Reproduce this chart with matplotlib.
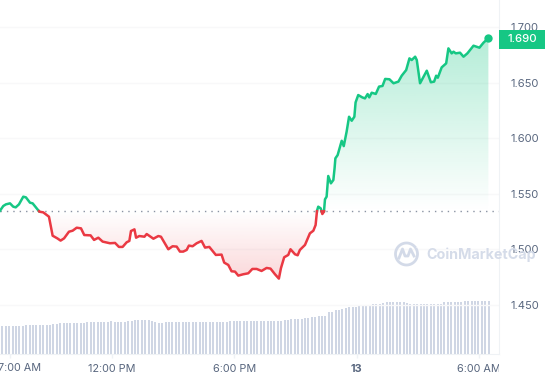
import numpy as np
import matplotlib
matplotlib.use("Agg")
import matplotlib.pyplot as plt
from matplotlib.transforms import Bbox, TransformedBbox

plt.rcParams['font.family'] = ['Inter', 'DejaVu Sans']

# hours since midnight of the 12th
hours = [6.51, 6.67, 6.80, 7.00, 7.16, 7.28, 7.44, 7.65, 7.78, 7.98, 8.11, 8.44, 8.63, 8.91,
         9.09, 9.32, 9.48, 9.65, 9.89, 10.07, 10.27, 10.48, 10.64, 10.95, 11.12, 11.33, 11.54,
         11.90, 12.15, 12.34, 12.52, 12.72, 12.85, 12.93, 13.10, 13.18, 13.34, 13.59, 13.70,
         14.03, 14.27, 14.40, 14.76, 14.97, 15.17, 15.33, 15.49, 15.66, 15.77, 15.95, 16.15,
         16.39, 16.56, 16.77, 17.09, 17.37, 17.50, 17.70, 17.86, 18.03, 18.19, 18.43, 18.68,
         18.88, 19.09, 19.33, 19.58, 19.77, 19.99, 20.18, 20.28, 20.44, 20.64, 20.75, 20.97,
         21.10, 21.21, 21.46, 21.70, 21.87, 21.98, 22.05, 22.11, 22.23, 22.31, 22.39, 22.44,
         22.52, 22.60, 22.73, 22.85, 22.91, 22.95, 23.06, 23.26, 23.36, 23.50, 23.62, 23.75,
         23.88, 23.94, 24.07, 24.27, 24.40, 24.53, 24.61, 24.73, 24.93, 25.09, 25.26, 25.39,
         25.60, 25.80, 26.04, 26.20, 26.42, 26.58, 26.69, 26.86, 26.94, 27.10, 27.43, 27.63,
         27.79, 27.89, 27.97, 28.16, 28.38, 28.49, 28.65, 28.74, 28.85, 29.06, 29.23, 29.42,
         29.72, 30.01, 30.21, 30.45]
prices = [1.5348, 1.5390, 1.5405, 1.5414, 1.5384, 1.5378, 1.5405, 1.5474, 1.5468, 1.5420, 1.5414,
          1.5339, 1.5333, 1.5294, 1.5123, 1.5099, 1.5079, 1.5099, 1.5159, 1.5168, 1.5195, 1.5189,
          1.5129, 1.5126, 1.5085, 1.5105, 1.5070, 1.5055, 1.5058, 1.5022, 1.5022, 1.5064, 1.5076,
          1.5165, 1.5180, 1.5105, 1.5120, 1.5114, 1.5138, 1.5096, 1.5120, 1.5114, 1.5001, 1.5028,
          1.5025, 1.4980, 1.4980, 1.4995, 1.5034, 1.5028, 1.5055, 1.5076, 1.5016, 1.5022, 1.4950,
          1.4953, 1.4881, 1.4860, 1.4803, 1.4800, 1.4764, 1.4776, 1.4785, 1.4824, 1.4824, 1.4806,
          1.4833, 1.4827, 1.4776, 1.4737, 1.4830, 1.4929, 1.4950, 1.5001, 1.4956, 1.4947, 1.4995,
          1.5040, 1.5144, 1.5168, 1.5219, 1.5348, 1.5384, 1.5369, 1.5318, 1.5339, 1.5450, 1.5474,
          1.5660, 1.5594, 1.5624, 1.5729, 1.5819, 1.5848, 1.5977, 1.5929, 1.6058, 1.6193, 1.6157,
          1.6193, 1.6322, 1.6388, 1.6367, 1.6358, 1.6397, 1.6367, 1.6409, 1.6398, 1.6464, 1.6470,
          1.6533, 1.6530, 1.6494, 1.6509, 1.6562, 1.6613, 1.6718, 1.6703, 1.6733, 1.6703, 1.6494,
          1.6607, 1.6503, 1.6509, 1.6562, 1.6544, 1.6637, 1.6673, 1.6808, 1.6763, 1.6778, 1.6763,
          1.6769, 1.6733, 1.6763, 1.6832, 1.6814, 1.6859, 1.6900]
volume = [28, 28, 28, 28, 28, 28, 28, 29, 29, 29, 29, 29, 29, 29, 29, 30, 30, 31, 31, 31, 31, 31,
          31, 31, 31, 32, 32, 32, 32, 32, 32, 32, 32.7, 32, 32, 32, 32, 32.7, 32.7, 34, 34, 34, 34,
          34, 33, 32, 31, 31, 32, 32, 32, 32, 32, 32, 32, 32, 32, 32, 32, 32, 32, 32, 32, 32, 32,
          32, 32, 33, 33, 33, 33, 33, 33, 33, 33, 33, 33, 33, 33, 33, 33, 33, 33, 34, 34, 35, 35,
          35, 35, 35.7, 35.7, 36.7, 36.7, 38.3, 38.3, 38.3, 41.7, 41.7, 44, 44, 45, 46, 46.7, 47,
          47.5, 48.7, 48.7, 48.7, 48.7, 50, 50, 50, 51, 52, 52, 52, 52, 52, 52, 51, 50, 50, 50, 50,
          50, 50, 50, 50, 50, 50, 51.7, 51.7, 51.7, 51.7, 51.7, 51.7, 53, 53, 53, 53, 53, 53, 53, 53]
open_price = 1.5343
last_price = "1.690"
price_ticks = [1.45, 1.50, 1.55, 1.60, 1.65, 1.70]
time_ticks = [7, 12, 18, 24, 30]
time_labels = ["7:00 AM", "12:00 PM", "6:00 PM", "13", "6:00 AM"]

GREEN = "#16c784"
RED = "#ea3943"
GREY = "#58667e"
BAR = "#cfd6e4"
WATER = "#d3dae8"

# put in the points where the line crosses the open price so the colours split cleanly
xs, ys = [hours[0]], [prices[0]]
for i in range(1, len(hours)):
    a, b = prices[i - 1], prices[i]
    if (a - open_price) * (b - open_price) < 0:
        xs.append(hours[i - 1] + (open_price - a) / (b - a) * (hours[i] - hours[i - 1]))
        ys.append(open_price)
    xs.append(hours[i])
    ys.append(b)
xs = np.array(xs)
ys = np.array(ys)

fig = plt.figure(figsize=(5.45, 3.8), dpi=100)
ax = fig.add_axes([0, 26 / 380, 499 / 545, 354 / 380])
ax.set_xlim(6.51, 30.97)
ax.set_ylim(1.4059, 1.7243)

ax2 = ax.twinx()
ax2.set_ylim(0, 354)
ax2.set_yticks([])
for s in ax2.spines.values():
    s.set_visible(False)
bar_x = 6.63 + np.arange(len(volume)) / 6
ax2.bar(bar_x, volume, width=0.1, color=BAR, linewidth=0)
ax2.set_zorder(1)
ax.set_zorder(2)
ax.patch.set_visible(False)

ax.grid(axis="y", color="#f8f8f9", linewidth=1)
ax.set_axisbelow(True)


def gradient_fill(color, lo, hi, alpha_lo, alpha_hi, y2):
    poly = ax.fill_between(xs, y2, open_price, facecolor="none", linewidth=0)
    rgba = np.zeros((256, 1, 4))
    rgba[..., :3] = matplotlib.colors.to_rgb(color)
    rgba[..., 3] = np.linspace(alpha_hi, alpha_lo, 256)[:, None]
    im = ax.imshow(rgba, extent=[xs[0], xs[-1], lo, hi], aspect="auto", origin="upper", zorder=1.5)
    im.set_clip_path(poly.get_paths()[0], ax.transData)


gradient_fill(GREEN, open_price, 1.69, 0.0, 0.32, np.maximum(ys, open_price))
gradient_fill(RED, 1.4737, open_price, 0.2, 0.0, np.minimum(ys, open_price))
ax.set_xlim(6.51, 30.97)
ax.set_ylim(1.4059, 1.7243)

ax.axhline(open_price, color="#8a93a3", linewidth=1, linestyle=(0, (1, 3.6)), zorder=3)
ax.plot(xs, np.where(ys >= open_price, ys, np.nan), color=GREEN, linewidth=1.8, zorder=4)
ax.plot(xs, np.where(ys <= open_price, ys, np.nan), color=RED, linewidth=1.8, zorder=4)
ax.plot(hours[-1], prices[-1], "o", color=GREEN, markersize=6, markeredgewidth=0, zorder=5)

for name in ["top", "left"]:
    ax.spines[name].set_visible(False)
for name in ["right", "bottom"]:
    ax.spines[name].set_color("#eff2f5")

ax.yaxis.tick_right()
ax.set_yticks(price_ticks)
ax.set_yticklabels(["%.3f" % p for p in price_ticks])
ax.tick_params(axis="y", length=0, pad=8, labelsize=8, labelcolor=GREY)
ax.set_xticks(time_ticks)
# first label gets pushed in from the edge, drawn below with the overlay
ax.set_xticklabels([""] + time_labels[1:])
ax.tick_params(axis="x", length=3, width=1, color="#eff2f5", pad=4, labelsize=7.8, labelcolor=GREY)
clip = TransformedBbox(Bbox([[0, 0], [499 / 545, 1]]), fig.transFigure)
for lab in ax.get_xticklabels():
    lab.set_clip_box(clip)
    lab.set_clip_on(True)
    if lab.get_text() == "13":
        lab.set_fontweight("bold")

# overlay in pixels for the price tag and the watermark
top = fig.add_axes([0, 0, 1, 1], zorder=5)
top.set_xlim(0, 545)
top.set_ylim(380, 0)
top.axis("off")
top.text(20, 368, time_labels[0], color=GREY, fontsize=7.8, ha="center", va="center")
top.add_patch(plt.Rectangle((499, 30), 46, 19, color=GREEN, linewidth=0))
top.text(522, 39.5, last_price, color="white", fontsize=8.2, ha="center", va="center", fontweight="medium")

t = np.radians(np.linspace(-25, 320, 80))
top.plot(406.5 + 11 * np.cos(t), 254 + 11 * np.sin(t), color=WATER, linewidth=2)
top.plot([399, 402.5, 405, 408, 410.5, 414], [258, 249, 256, 256, 249, 256], color=WATER, linewidth=2)
top.text(426, 255, "CoinMarketCap", color=WATER, fontsize=10.3, fontweight="bold", va="center", ha="left", alpha=0.95)

fig.savefig("out.png", dpi=100)
